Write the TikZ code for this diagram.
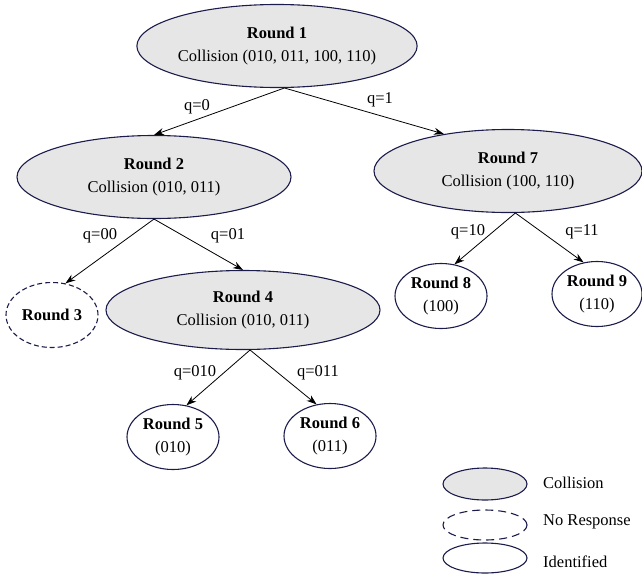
\documentclass[tikz,border=0pt]{standalone}
\usepackage{fontspec}
\setmainfont{Liberation Serif}
\usetikzlibrary{arrows.meta,shapes.geometric}
\definecolor{Rim}{HTML}{1C1C4C}
\definecolor{Shade}{HTML}{E6E6E6}

\begin{document}
\begin{tikzpicture}[x=1pt,y=-1pt,>={Stealth[length=10pt,width=7pt]},
  font=\fontsize{16.5}{23}\selectfont,
  coll/.style={ellipse,draw=Rim,fill=Shade,line width=1.1pt,inner sep=0pt,
    minimum width=274pt,minimum height=83pt,align=center},
  ident/.style={ellipse,draw=Rim,line width=1.1pt,inner sep=0pt,
    minimum width=92pt,minimum height=65pt,align=center},
  nores/.style={ident,dash pattern=on 5pt off 3pt},
  qlab/.style={inner sep=0pt},
  keytext/.style={anchor=west,inner sep=0pt},
  tree/.style={->,line width=0.8pt}]
\useasboundingbox (0,0) rectangle (642,581);
% collision rounds
\node[coll] (r1) at (277,46) {\textbf{Round 1}\\Collision (010, 011, 100, 110)};
\node[coll] (r2) at (154,177) {\textbf{Round 2}\\Collision (010, 011)};
\node[coll,minimum width=268pt] (r7) at (508,171) {\textbf{Round 7}\\Collision (100, 110)};
\node[coll,minimum height=79pt] (r4) at (243,310) {\textbf{Round 4}\\Collision (010, 011)};
% idle and identified rounds
\node[nores] (r3) at (52,315) {\textbf{Round 3}};
\node[ident] (r8) at (441,296) {\textbf{Round 8}\\(100)};
\node[ident,minimum width=90pt] (r9) at (597,294) {\textbf{Round 9}\\(110)};
\node[ident] (r5) at (173,437) {\textbf{Round 5}\\(010)};
\node[ident] (r6) at (330,436) {\textbf{Round 6}\\(011)};
% queries
\draw[tree] (r1.-80) -- (r2.north);
\draw[tree] (r1.-80) -- (r7.150);
\draw[tree] (r2.south) -- (r3.67);
\draw[tree] (r2.south) -- (r4.north);
\draw[tree] (r7.-80) -- (r8.67);
\draw[tree] (r7.-80) -- (r9.113);
\draw[tree] (r4.-80) -- (r5.67);
\draw[tree] (r4.-80) -- (r6.113);
\node[qlab] (q0) at (197,107) {q=0};
\node[qlab] (q1) at (380,100) {q=1};
\node[qlab] (q00) at (100,236) {q=00};
\node[qlab] (q01) at (228,236) {q=01};
\node[qlab] (q10) at (468,232) {q=10};
\node[qlab] (q11) at (582,232) {q=11};
\node[qlab] (q010) at (195,373) {q=010};
\node[qlab] (q011) at (318,373) {q=011};
% legend
\node[coll,minimum width=84pt,minimum height=32pt] (kc) at (485,484) {};
\node[ident,dash pattern=on 8pt off 5pt,minimum width=84pt,minimum height=30pt] (kn) at (485,525) {};
\node[ident,minimum width=84pt,minimum height=30pt] (ki) at (485,558) {};
\node[keytext] (tc) at (543,483) {Collision};
\node[keytext] (tn) at (543,522) {No Response};
\node[keytext] (ti) at (543,562) {Identified};
\end{tikzpicture}
\end{document}
